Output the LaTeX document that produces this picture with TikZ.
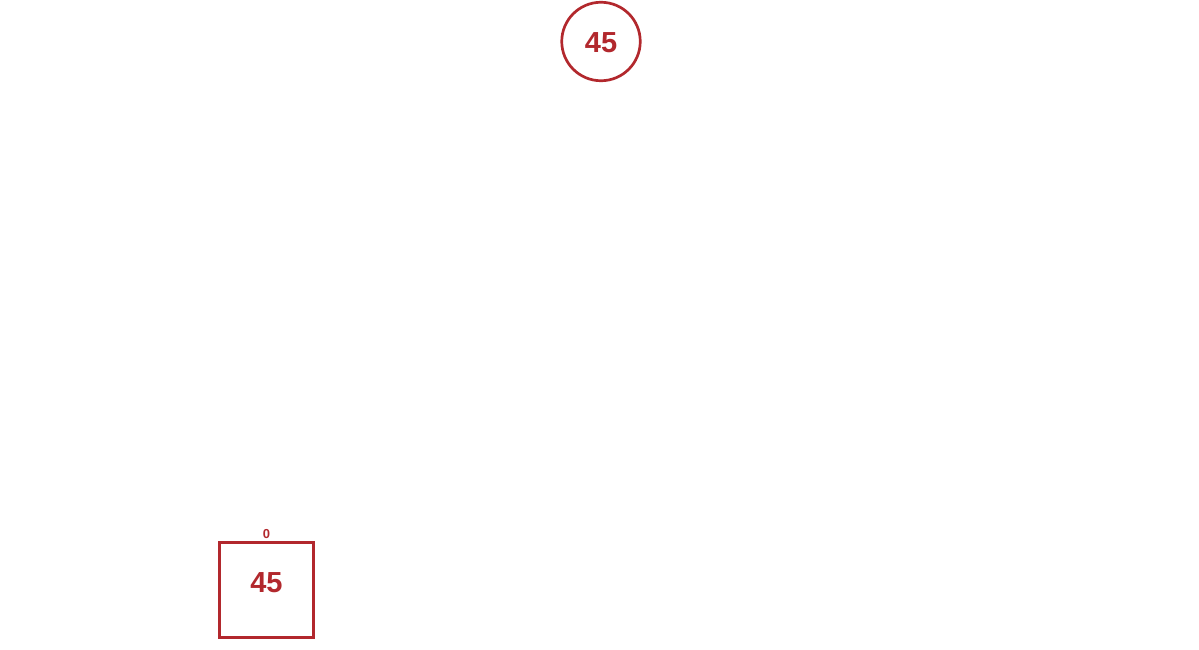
\documentclass[tikz,border=0pt]{standalone}
\usepackage{fontspec}
\setmainfont{Liberation Sans}
\definecolor{nodered}{RGB}{178,40,45}
\begin{document}
\begin{tikzpicture}[x=1pt,y=-1pt,
  ringnode/.style={circle,draw=nodered,line width=2.7pt,minimum size=78.5pt,inner sep=0pt,text=nodered},
  cellnode/.style={rectangle,draw=nodered,line width=2.7pt,minimum size=94.5pt,inner sep=0pt,text=nodered},
  valtext/.style={text=nodered,font=\fontsize{29}{30}\selectfont\bfseries,inner sep=0pt},
  idxtext/.style={text=nodered,font=\fontsize{13}{14}\selectfont\bfseries,inner sep=0pt}]
\useasboundingbox (0,0) rectangle (1199,650);
\node[ringnode] (root) at (601,41.5) {};
\node[valtext] (rootval) at (601,42.5) {45};
\node[cellnode] (cell) at (266.5,590) {};
\node[valtext] (cellval) at (266.5,582.5) {45};
\node[idxtext] (cellidx) at (266.5,534.5) {0};
\end{tikzpicture}
\end{document}
